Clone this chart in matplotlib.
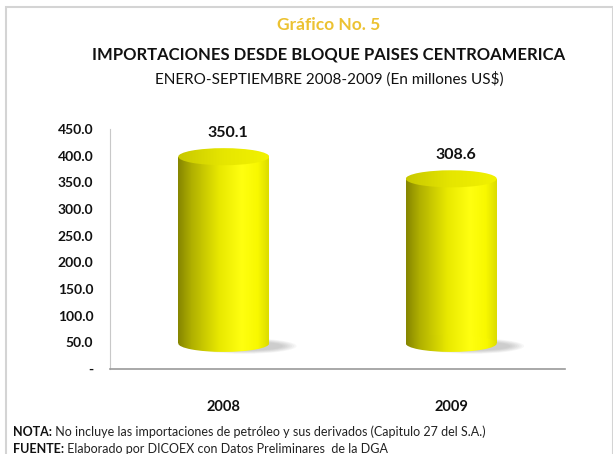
import numpy as np
import matplotlib
matplotlib.use('Agg')
import matplotlib.pyplot as plt
from matplotlib.patches import Ellipse, Rectangle
from matplotlib.colors import LinearSegmentedColormap
from matplotlib import font_manager

# data
years = ['2008', '2009']
values = [350.1, 308.6]
yticks = [0, 50, 100, 150, 200, 250, 300, 350, 400, 450]

titulo0 = 'Gráfico No. 5'
titulo1 = 'IMPORTACIONES DESDE BLOQUE PAISES CENTROAMERICA'
titulo2 = 'ENERO-SEPTIEMBRE 2008-2009 (En millones US$)'
nota = 'No incluye las importaciones de petróleo y sus derivados (Capitulo 27 del S.A.)'
fuente = 'Elaborado por DICOEX con Datos Preliminares  de la DGA'


def pick(names):
    for n in names:
        try:
            font_manager.findfont(font_manager.FontProperties(family=n), fallback_to_default=False)
            return n
        except ValueError:
            pass
    return 'DejaVu Sans'

fnt = pick(['Liberation Sans Narrow', 'Lato', 'Open Sans'])
plt.rcParams['font.family'] = [fnt, 'DejaVu Sans']

W, H = 613, 454
fig = plt.figure(figsize=(W / 100, H / 100), dpi=100)
ax = fig.add_axes([110 / W, 1 - 369 / H, 455 / W, 240 / H])

depth = 48      # offset of the 3d floor (data units)
eh = 32         # ellipse height (data units)
bw = 0.40
xpos = [0.5, 1.5]

body_cm = LinearSegmentedColormap.from_list('body', [
    (0.0, '#858500'), (0.15, '#b0b000'), (0.45, '#e8e800'),
    (0.7, '#ffff10'), (0.88, '#f8f800'), (1.0, '#dcdc00')])
top_cm = LinearSegmentedColormap.from_list('top', [
    (0.0, '#c8c800'), (0.5, '#e6e600'), (1.0, '#f2f200')])


def gradient(x0, x1, y0, y1, cmap, clip, z):
    g = np.linspace(0, 1, 256).reshape(1, -1)
    im = ax.imshow(g, cmap=cmap, extent=(x0, x1, y0, y1), aspect='auto',
                   origin='lower', zorder=z, interpolation='bicubic')
    im.set_clip_path(clip)


bars = ax.bar(xpos, values, width=bw, bottom=depth, color='none', edgecolor='none', zorder=3)

for b, v in zip(bars, values):
    x0, w, y0, h = b.get_x(), b.get_width(), b.get_y(), b.get_height()
    xc = x0 + w / 2
    # soft shadow
    for k in range(7):
        s = Ellipse((xc + 0.09, y0 - 5), w * (1.15 - k * 0.05), eh * (0.9 - k * 0.06),
                    facecolor='#777777', edgecolor='none', alpha=0.06, zorder=2)
        ax.add_patch(s)
    # body
    gradient(x0, x0 + w, y0 - eh, y0 + h, body_cm, b, 3)
    base = Ellipse((xc, y0), w, eh, facecolor='none', edgecolor='none')
    ax.add_patch(base)
    gradient(x0, x0 + w, y0 - eh, y0 + h, body_cm, base, 3)
    # top face
    top = Ellipse((xc, y0 + h), w, eh, facecolor='none', edgecolor='none')
    ax.add_patch(top)
    gradient(x0, x0 + w, y0 + h - eh, y0 + h + eh, top_cm, top, 4)
    ax.annotate(f'{v:.1f}', xy=(xc, y0 + h), xytext=(3, 17), textcoords='offset points',
                ha='center', va='center', fontsize=11.5, fontweight='bold', color='#111111')

ax.set_xlim(0, 2)
ax.set_ylim(0, 450)
ax.set_yticks(yticks)
ax.set_yticklabels(['-' if t == 0 else f'{t:.1f}' for t in yticks])
ax.set_xticks(xpos)
ax.set_xticklabels(years)
ax.tick_params(axis='y', length=0, pad=12, labelsize=10)
ax.tick_params(axis='x', length=0, pad=22, labelsize=10.5)
for lab in ax.get_yticklabels() + ax.get_xticklabels():
    lab.set_fontweight('bold')
    lab.set_color('#111111')
for s in ['top', 'right']:
    ax.spines[s].set_visible(False)
ax.spines['left'].set_color('#c8c8c8')
ax.spines['bottom'].set_color('#9a9a9a')
ax.spines['bottom'].set_linewidth(1.2)

# titles
fig.text(329 / W, 1 - 25 / H, titulo0, ha='center', va='center', fontsize=12.5,
         fontweight='bold', color='#ecc232')
fig.text(329 / W, 1 - 55 / H, titulo1, ha='center', va='center', fontsize=12,
         fontweight='bold', color='#111111')
fig.text(329 / W, 1 - 79 / H, titulo2, ha='center', va='center', fontsize=11,
         color='#111111')

# notes
t1 = fig.text(13 / W, 1 - 432 / H, 'NOTA:', ha='left', va='center', fontsize=9,
              fontweight='bold', color='#111111')
ax.annotate(' ' + nota, xy=(1, 0), xycoords=t1, ha='left', va='bottom',
            fontsize=9, color='#222222', annotation_clip=False)
t2 = fig.text(13 / W, 1 - 449 / H, 'FUENTE:', ha='left', va='center', fontsize=9,
              fontweight='bold', color='#111111')
ax.annotate(' ' + fuente, xy=(1, 0), xycoords=t2, ha='left', va='bottom',
            fontsize=9, color='#222222', annotation_clip=False)

# frame
fig.add_artist(Rectangle((6 / W, -0.1), 0.99, 1.1 - 7 / H, transform=fig.transFigure,
                         fill=False, edgecolor='#d4d4d4', linewidth=1.5))

fig.savefig('out.png', dpi=100)
